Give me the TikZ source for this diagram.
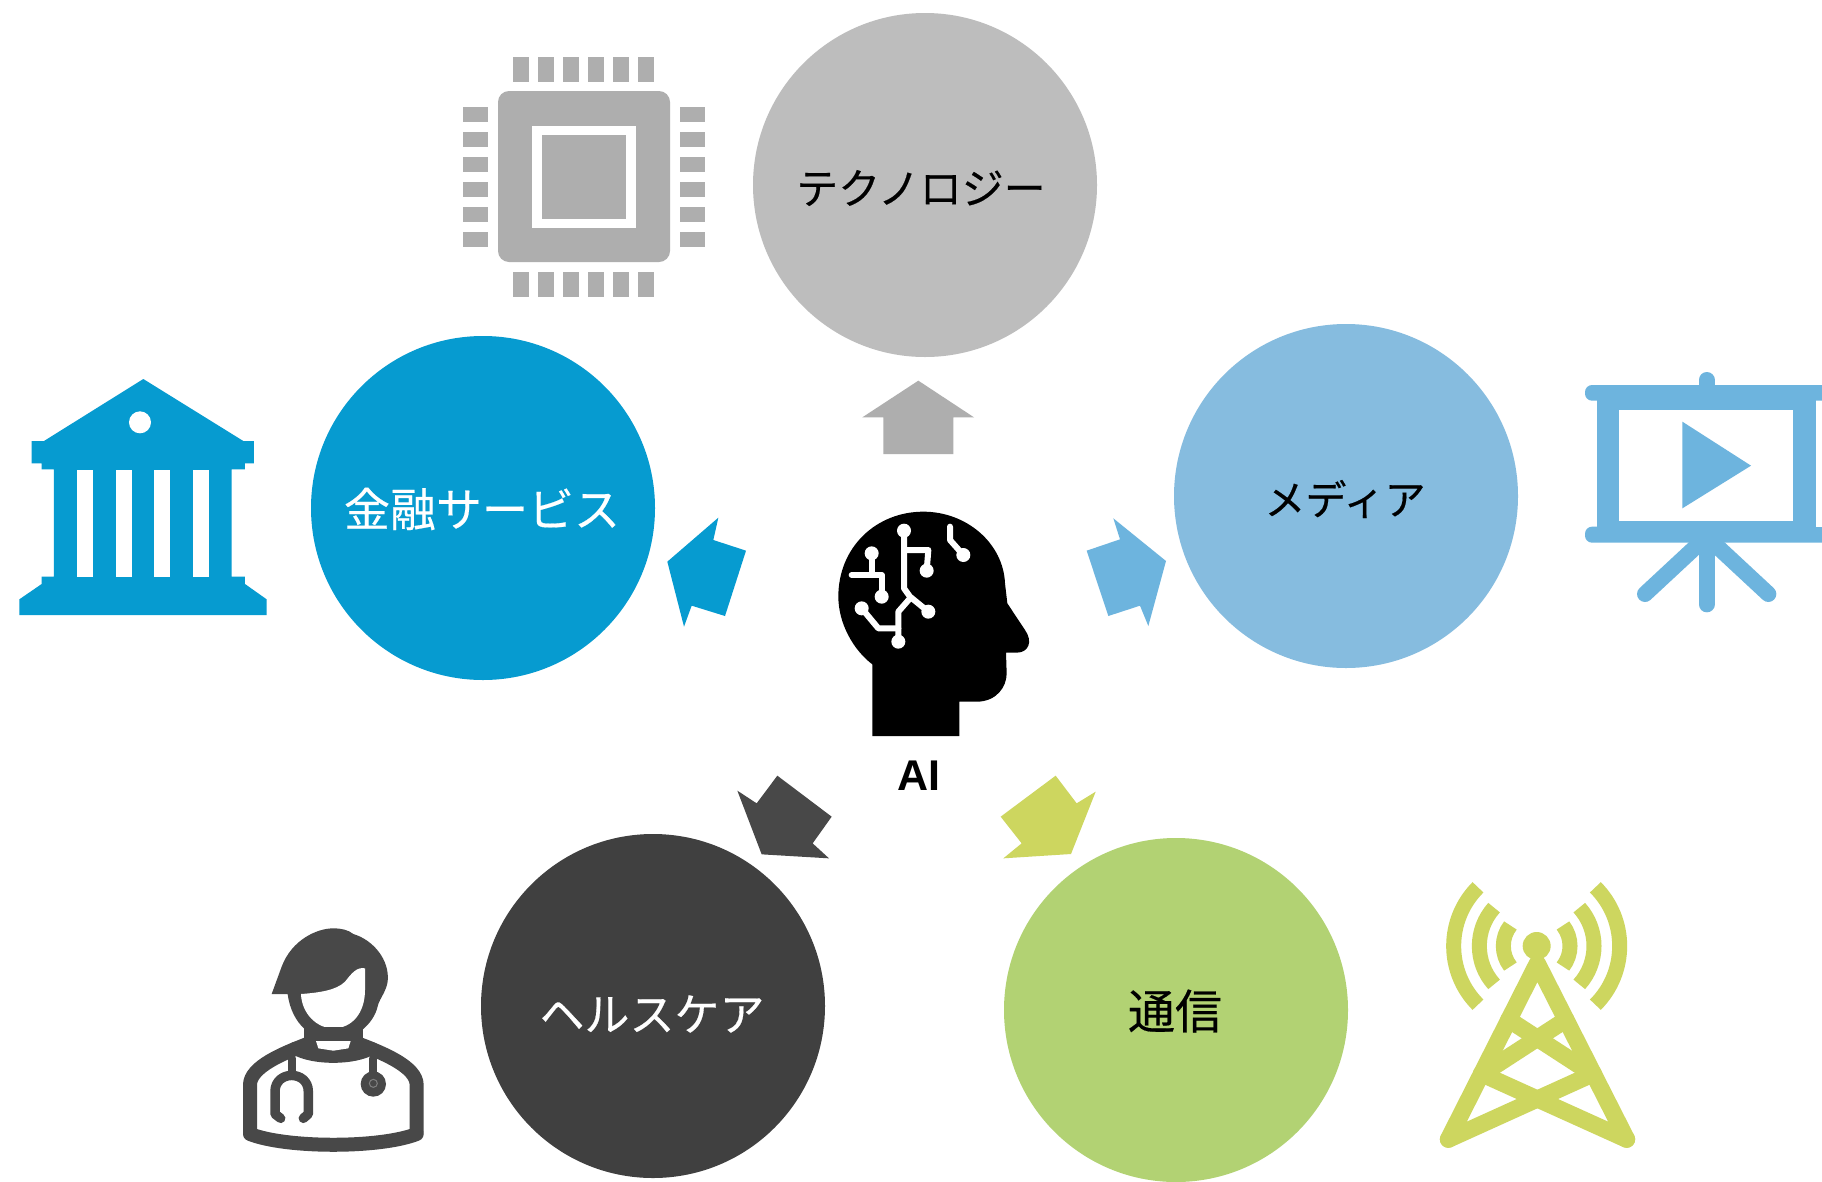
\documentclass[tikz,border=0pt]{standalone}
\usepackage{fontspec}
\newfontfamily\cjk[FakeBold=0.35]{Noto Sans CJK JP}
\newfontfamily\lab{Liberation Sans}
\definecolor{techc}{HTML}{BDBDBD}
\definecolor{chipc}{HTML}{AEAEAE}
\definecolor{finc}{HTML}{069BD0}
\definecolor{medc}{HTML}{86BCDF}
\definecolor{meda}{HTML}{6DB4DE}
\definecolor{heac}{HTML}{404040}
\definecolor{heaa}{HTML}{484848}
\definecolor{telc}{HTML}{B2D273}
\definecolor{tela}{HTML}{CDD65F}
\tikzset{
  zoomed/.style 2 args={shift={(#1,#2)},x=0.33333pt,y=-0.33333pt},
  topic/.style={circle,minimum size=344pt,inner sep=0pt},
  ltext/.style={font=\cjk\fontsize{#1}{50}\selectfont,inner sep=0pt},
  trace/.style={draw=white,line width=6pt,line join=round,line cap=round},
  dot/.style={fill=white},
  tower/.style={draw=tela,line width=17pt,line cap=round,line join=round},
  wave/.style={draw=tela,line width=15pt},
  docline/.style={draw=heaa,line join=round,line cap=round},
}
\begin{document}
\begin{tikzpicture}[x=1pt,y=-1pt]
\useasboundingbox (0,0) rectangle (1822,1181);
\fill[white] (0,0) rectangle (1822,1181);

% circles
\node[topic,fill=techc] (tech) at (925,185) {};
\node[topic,fill=finc] (fin) at (483,508) {};
\node[topic,fill=medc] (med) at (1346,496) {};
\node[topic,fill=heac] (hea) at (653,1006) {};
\node[topic,fill=telc] (tel) at (1176,1010) {};
\node[ltext=42,text=black] (techl) at (921,188) {テクノロジー};
\node[ltext=46,text=white] (finl) at (482,509) {金融サービス};
\node[ltext=41,text=black] (medl) at (1345,499) {メディア};
\node[ltext=45,text=white] (heal) at (652,1014) {ヘルスケア};
\node[ltext=47,text=black] (tell) at (1175,1011) {通信};

% block arrows
\begin{scope}[zoomed={650}{360}]
\fill[chipc] (805,62)--(972,172)--(910,172)--(910,282)--(700,282)--(700,172)--(637,172)--cycle;
\fill[finc] (205,473)--(190,540)--(288,572)--(225,768)--(125,737)--(102,800)--(52,605)--cycle;
\fill[meda] (1390,475)--(1410,538)--(1310,572)--(1375,768)--(1470,737)--(1495,798)--(1548,603)--cycle;
\end{scope}
\begin{scope}[zoomed={720}{760}]
\fill[heaa] (172,47)--(335,170)--(278,250)--(327,295)--(125,283)--(52,92)--(110,130)--cycle;
\fill[tela] (1007,47)--(1070,130)--(1127,95)--(1053,282)--(850,295)--(905,250)--(842,170)--cycle;
\end{scope}

% AI head
\begin{scope}[zoomed={820}{500}]
\fill[black] (157,708)--(418,708)--(418,605)--(470,605)
  .. controls (530,605) and (560,560) .. (560,520)--(558,458)--(590,458)
  .. controls (625,458) and (640,425) .. (615,390)--(562,310)--(555,250)
  .. controls (550,130) and (440,35) .. (310,35)
  .. controls (170,35) and (55,140) .. (55,290)
  .. controls (55,370) and (100,450) .. (157,493)--cycle;
\draw[trace] (252,92)--(252,265)--(270,290)--(325,335);
\draw[trace] (255,150)--(325,150)--(320,212);
\draw[trace] (270,295)--(235,335)--(235,425);
\draw[trace] (125,325)--(175,385)--(235,385);
\draw[trace] (155,160)--(155,225);
\draw[trace] (95,225)--(185,225)--(185,290);
\draw[trace] (390,80)--(390,120)--(430,165);
\foreach \a/\b in {252/92,325/335,320/212,235/425,125/325,155/160,185/290,430/165}
  \fill[dot] (\a,\b) circle[radius=21];
\end{scope}
\node[font=\lab\bfseries\fontsize{43}{43}\selectfont,anchor=base,inner sep=0pt] (ai) at (919,790) {AI};

% chip
\begin{scope}
\fill[chipc,rounded corners=11pt] (498,91) rectangle (670,262);
\fill[white] (532,126) rectangle (636,228);
\fill[chipc] (542,135) rectangle (626,219);
\foreach \i in {0,...,5}{
  \fill[chipc] ({513+25*\i},57) rectangle ({529+25*\i},82);
  \fill[chipc] ({513+25*\i},272) rectangle ({529+25*\i},297);
  \fill[chipc] (463,{107+25*\i}) rectangle (488,{122+25*\i});
  \fill[chipc] (680,{107+25*\i}) rectangle (705,{122+25*\i});
}
\end{scope}

% bank
\begin{scope}[zoomed={0}{360}]
\fill[finc] (430,57)--(730,243)--(762,243)--(762,310)--(735,310)--(735,328)--(695,328)--(695,650)--(735,650)--(735,672)--(800,718)--(800,765)--(58,765)--(58,718)--(125,672)--(125,650)--(162,650)--(162,328)--(125,328)--(125,310)--(95,310)--(95,243)--(132,243)--cycle;
\foreach \a in {230,347,463,580}
  \fill[white] (\a,330) rectangle ({\a+48},650);
\fill[white] (420,187) circle[radius=33];
\end{scope}

% presentation screen
\begin{scope}[zoomed={1570}{360}]
\fill[meda,rounded corners=7pt] (45,75) rectangle (790,122);
\fill[meda,rounded corners=7pt] (45,500) rectangle (790,548);
\fill[meda] (80,100) rectangle (738,520);
\fill[white] (148,150) rectangle (670,484);
\fill[white] (738,122) rectangle (760,500);
\fill[meda] (760,122) rectangle (790,500);
\fill[white] (756,0) rectangle (790,800);
\draw[meda,line width=16pt,line cap=round] (410,60)--(410,100);
\draw[meda,line width=16pt,line cap=round] (410,530)--(410,733);
\draw[meda,line width=16pt,line cap=round] (410,530)--(225,702);
\draw[meda,line width=16pt,line cap=round] (410,530)--(595,702);
\fill[meda] (337,185)--(543,317)--(337,445)--cycle;
\end{scope}

% doctor
\begin{scope}[zoomed={220}{910}]
\fill[heaa] (155,252)--(185,170) .. controls (215,90) and (290,55) .. (340,55)
  .. controls (365,55) and (385,60) .. (400,72)
  .. controls (460,90) and (510,150) .. (503,215)
  .. controls (498,245) and (480,265) .. (474,285)
  .. controls (462,345) and (400,392) .. (340,392)
  .. controls (280,392) and (215,345) .. (203,252)--cycle;
\fill[white] (243,252) .. controls (245,310) and (290,355) .. (340,355)
  .. controls (395,355) and (435,310) .. (435,240)--(435,175)
  .. controls (410,170) and (395,190) .. (375,215)
  .. controls (350,240) and (300,248) .. (243,252)--cycle;
\fill[heaa] (252,350)--(428,350)--(428,420)--(252,420)--cycle;
\draw[docline,line width=14pt] (90,665)--(90,525) .. controls (90,470) and (190,430) .. (262,402);
\draw[docline,line width=14pt] (590,665)--(590,525) .. controls (590,470) and (490,430) .. (418,402);
\draw[docline,line width=14pt] (90,672) .. controls (200,715) and (480,715) .. (590,672);
\draw[docline,line width=13pt] (225,415) .. controls (280,447) and (400,447) .. (455,415);
\fill[white] (288,393)--(392,393)--(385,415)--(340,422)--(295,415)--cycle;
\draw[docline,line width=8pt] (215,445)--(215,490);
\draw[docline,line width=9.5pt] (182,625)--(165,612)--(165,545) .. controls (165,480) and (265,480) .. (265,545)--(265,612)--(250,625);
\draw[docline,line width=8pt] (460,445)--(460,500);
\fill[heaa] (460,522) circle[radius=38];
\draw[gray,line width=1pt] (460,520) circle[radius=12];
\end{scope}

% antenna
\begin{scope}[zoomed={1420}{870}]
\foreach \r/\t in {100/38,172/42,249/45}{
  \draw[wave] (350,228) ++(-\t:\r) arc[start angle=-\t,end angle=\t,radius=\r];
  \draw[wave] (350,228) ++(180-\t:\r) arc[start angle=180-\t,end angle=180+\t,radius=\r];
}
\fill[tela] (350,228) circle[radius=42];
\draw[tower] (85,808)--(352,280)--(620,808);
\draw[tower] (266,449)--(520,614);
\draw[tower] (438,449)--(184,614);
\draw[tower] (85,808)--(520,611);
\draw[tower] (620,808)--(184,611);
\end{scope}
\end{tikzpicture}
\end{document}
